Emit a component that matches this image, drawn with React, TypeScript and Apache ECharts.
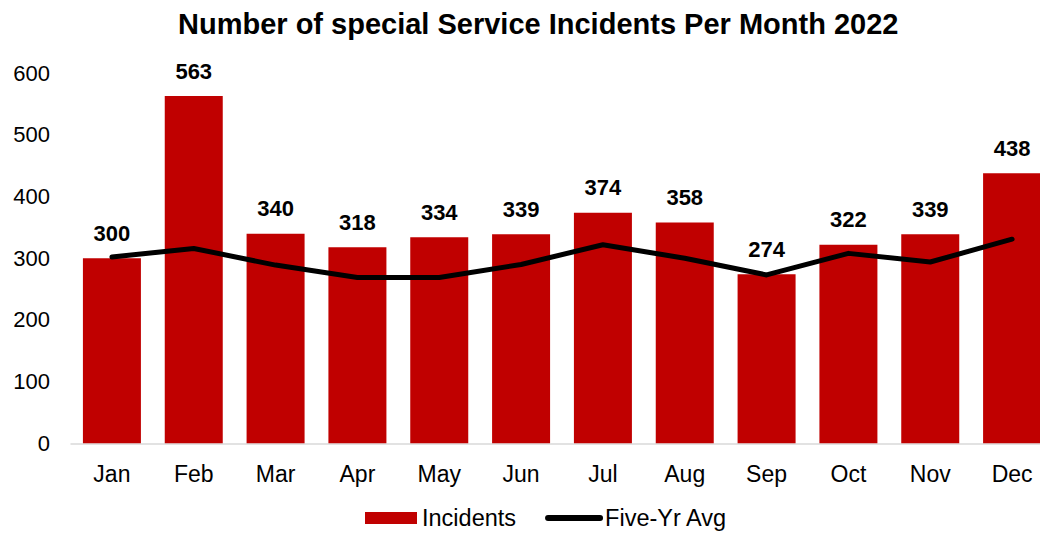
import React, { useEffect, useRef } from "react";
import * as echarts from "echarts";

const months = ["Jan", "Feb", "Mar", "Apr", "May", "Jun", "Jul", "Aug", "Sep", "Oct", "Nov", "Dec"];
const incidents = [300, 563, 340, 318, 334, 339, 374, 358, 274, 322, 339, 438];
const fiveYrAvg = [302, 316, 289, 269, 269, 290, 322, 300, 273, 308, 294, 331];
const yTicks = [0, 100, 200, 300, 400, 500, 600];

const FONT = "Liberation Sans, Arial, sans-serif";

export default function App() {
  const ref = useRef<HTMLDivElement>(null);
  useEffect(() => {
    if (!ref.current) return;
    const chart = echarts.init(ref.current, null, { renderer: "svg" });
    chart.setOption({
      animation: false,
      backgroundColor: "#ffffff",
      title: {
        text: "Number of special Service Incidents Per Month 2022",
        left: 173,
        top: 4,
        textStyle: { fontFamily: FONT, fontSize: 29, fontWeight: "bold", color: "#000" },
      },
      grid: {
        left: 71,
        right: -13,
        top: 73.3,
        bottom: 93.7,
        containLabel: false,
        outerBoundsMode: "none",
      },
      legend: {
        bottom: 2,
        left: 360,
        itemWidth: 52,
        itemHeight: 12,
        itemGap: 29,
        textStyle: { fontFamily: FONT, fontSize: 23.5, color: "#000" },
        data: [
          { name: "Incidents", icon: "rect" },
          { name: "Five-Yr Avg", itemStyle: { opacity: 0 }, lineStyle: { width: 6, color: "#000", cap: "round" } },
        ],
      },
      xAxis: {
        type: "category",
        data: months,
        axisLine: { show: true, lineStyle: { color: "#d9d9d9", width: 1.5 } },
        axisTick: { show: false },
        axisLabel: { fontFamily: FONT, fontSize: 23, color: "#000", margin: 19 },
      },
      yAxis: {
        type: "value",
        min: yTicks[0],
        max: yTicks[yTicks.length - 1],
        interval: 100,
        splitLine: { show: false },
        axisLine: { show: false },
        axisTick: { show: false },
        axisLabel: { fontFamily: FONT, fontSize: 22, color: "#000", margin: 21 },
      },
      series: [
        {
          name: "Incidents",
          type: "bar",
          data: incidents,
          barWidth: 58,
          itemStyle: { color: "#C00000" },
          label: {
            show: true,
            position: "top",
            distance: 14,
            fontFamily: FONT,
            fontSize: 22,
            fontWeight: "bold",
            color: "#000",
          },
        },
        {
          name: "Five-Yr Avg",
          type: "line",
          data: fiveYrAvg,
          symbol: "none",
          lineStyle: { color: "#000", width: 5, cap: "round", join: "round" },
          itemStyle: { color: "#000" },
        },
      ],
    });
    return () => chart.dispose();
  }, []);
  return <div ref={ref} style={{ position: "fixed", left: 0, top: 0, width: 1040, height: 537 }} />;
}
